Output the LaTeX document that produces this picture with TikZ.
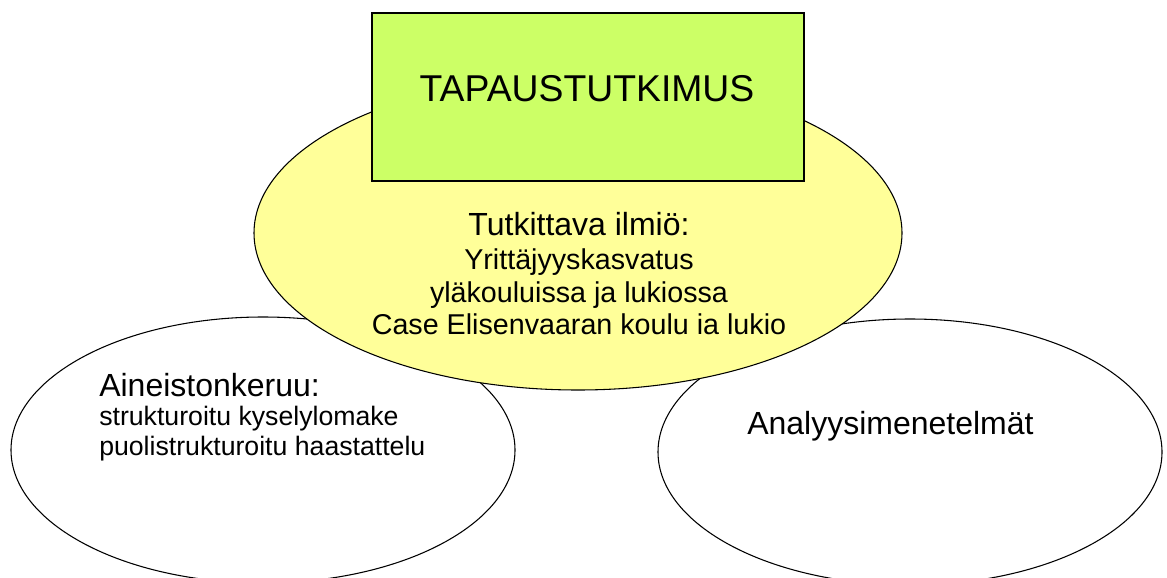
\documentclass[tikz,border=0pt]{standalone}
\usepackage{fontspec}
\setmainfont{Liberation Sans}
\usetikzlibrary{shapes.geometric}
\definecolor{caselime}{HTML}{CCFF66}
\definecolor{ilmioyellow}{HTML}{FFFF99}
\tikzset{
  bubble/.style={ellipse, draw, line width=0.8pt, inner sep=0pt},
  lowbubble/.style={bubble, fill=white, minimum width=378pt, minimum height=199.5pt},
  txt/.style={anchor=base, inner sep=0pt},
  bigtxt/.style={txt, font=\fontsize{24}{28}\selectfont},
  midtxt/.style={txt, font=\fontsize{21.5}{25}\selectfont},
  smalltxt/.style={txt, anchor=base west, font=\fontsize{20}{23}\selectfont},
}
\begin{document}
\begin{tikzpicture}[x=0.75pt, y=-0.75pt]
\clip (0,0) rectangle (1167,578);
% lower ellipses first, the yellow one lies over them
\node[lowbubble] (keruu) at (263,450) {};
\node[lowbubble] (analyysi) at (910,452) {};
\node[bubble, fill=ilmioyellow, minimum width=486pt, minimum height=235.5pt] (ilmio) at (578,233) {};
\node[draw, line width=1.1pt, fill=caselime, minimum width=324pt, minimum height=126pt, inner sep=0pt] (tapaus) at (588,97) {};
\node[txt, font=\fontsize{28}{32}\selectfont] (otsikko) at (587,101) {TAPAUSTUTKIMUS};
% yellow ellipse
\node[bigtxt] (ilmio1) at (579,235) {Tutkittava ilmiö:};
\node[midtxt] (ilmio2) at (579,269) {Yrittäjyyskasvatus};
\node[midtxt] (ilmio3) at (579,302) {yläkouluissa ja lukiossa};
\node[midtxt] (ilmio4) at (579,334) {Case Elisenvaaran koulu ia lukio};
% left ellipse
\node[bigtxt, anchor=base west] (keruu1) at (99,396) {Aineistonkeruu:};
\node[smalltxt] (keruu2) at (99,425) {strukturoitu kyselylomake};
\node[smalltxt] (keruu3) at (99,455) {puolistrukturoitu haastattelu};
% right ellipse
\node[bigtxt, anchor=base west] (analyysi1) at (747,434) {Analyysimenetelmät};
\end{tikzpicture}
\end{document}
